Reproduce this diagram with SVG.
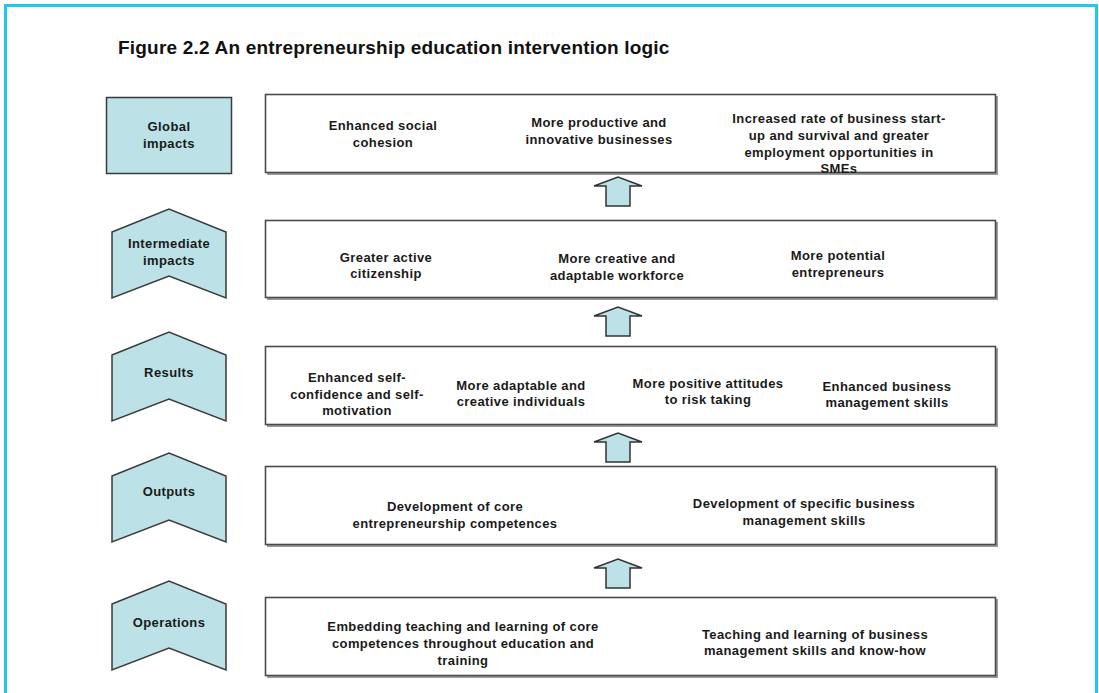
<svg xmlns="http://www.w3.org/2000/svg" width="1099" height="693" viewBox="0 0 1099 693">
<defs>
<style>
.t{font-family:"Liberation Sans",Arial,sans-serif;font-weight:bold;font-size:13px;letter-spacing:0.4px;fill:#1a1a1a;text-anchor:middle}
.title{font-family:"Liberation Sans",Arial,sans-serif;font-weight:bold;font-size:19px;letter-spacing:0.2px;fill:#111}
.box{fill:#fff;stroke:#4a4a4a;stroke-width:1.6}
.sh{fill:#9a9a9a}
.lab{fill:#bce2e7;stroke:#3a3a3a;stroke-width:1.5;stroke-linejoin:miter}
.arr{fill:#bce2e7;stroke:#333;stroke-width:1.5;stroke-linejoin:miter}
</style>
<g id="chev"><polygon class="lab" points="112,23 169,0 226,23 226,89 169,67 112,89"/></g>
<g id="upArrow"><polygon class="arr" points="606,29 606,9 594,9 618,0 642,9 630,9 630,29"/></g>
</defs>
<rect x="0" y="0" width="1099" height="693" fill="#fff"/>
<rect x="5.5" y="5.5" width="1091" height="700" fill="none" stroke="#22c6ef" stroke-width="3"/>
<text class="title" x="118" y="54">Figure 2.2 An entrepreneurship education intervention logic</text>

<g id="label-global"><rect class="lab" x="106.5" y="97.5" width="125" height="76"/>
<text class="t" x="169" y="131">Global</text><text class="t" x="169" y="148">impacts</text></g>
<g id="label-intermediate"><use href="#chev" y="209"/>
<text class="t" x="169" y="248">Intermediate</text><text class="t" x="169" y="265">impacts</text></g>
<g id="label-results"><use href="#chev" y="332"/>
<text class="t" x="169" y="377">Results</text></g>
<g id="label-outputs"><use href="#chev" y="453"/>
<text class="t" x="169" y="496">Outputs</text></g>
<g id="label-operations"><use href="#chev" y="581"/>
<text class="t" x="169" y="627">Operations</text></g>

<g id="box-global"><rect class="sh" x="267" y="96" width="731" height="79"/><rect class="box" x="265.5" y="94.5" width="730" height="78"/>
<text class="t" x="383" y="130">Enhanced social</text><text class="t" x="383" y="147">cohesion</text>
<text class="t" x="599" y="127">More productive and</text><text class="t" x="599" y="144">innovative businesses</text>
<text class="t" x="839" y="123">Increased rate of business start-</text><text class="t" x="839" y="140">up and survival and greater</text><text class="t" x="839" y="157">employment opportunities in</text><text class="t" x="839" y="173">SMEs</text></g>

<g id="box-intermediate"><rect class="sh" x="267" y="222" width="731" height="78"/><rect class="box" x="265.5" y="220.5" width="730" height="77"/>
<text class="t" x="386" y="262">Greater active</text><text class="t" x="386" y="278">citizenship</text>
<text class="t" x="617" y="263">More creative and</text><text class="t" x="617" y="280">adaptable workforce</text>
<text class="t" x="838" y="260">More potential</text><text class="t" x="838" y="277">entrepreneurs</text></g>

<g id="box-results"><rect class="sh" x="267" y="348" width="731" height="79"/><rect class="box" x="265.5" y="346.5" width="730" height="78"/>
<text class="t" x="357" y="382">Enhanced self-</text><text class="t" x="357" y="399">confidence and self-</text><text class="t" x="357" y="415">motivation</text>
<text class="t" x="521" y="390">More adaptable and</text><text class="t" x="521" y="406">creative individuals</text>
<text class="t" x="708" y="388">More positive attitudes</text><text class="t" x="708" y="404">to risk taking</text>
<text class="t" x="887" y="391">Enhanced business</text><text class="t" x="887" y="407">management skills</text></g>

<g id="box-outputs"><rect class="sh" x="267" y="468" width="731" height="79"/><rect class="box" x="265.5" y="466.5" width="730" height="78"/>
<text class="t" x="455" y="511">Development of core</text><text class="t" x="455" y="528">entrepreneurship competences</text>
<text class="t" x="804" y="508">Development of specific business</text><text class="t" x="804" y="525">management skills</text></g>

<g id="box-operations"><rect class="sh" x="267" y="599" width="731" height="79"/><rect class="box" x="265.5" y="597.5" width="730" height="78"/>
<text class="t" x="463" y="631">Embedding teaching and learning of core</text><text class="t" x="463" y="648">competences throughout education and</text><text class="t" x="463" y="665">training</text>
<text class="t" x="815" y="639">Teaching and learning of business</text><text class="t" x="815" y="655">management skills and know-how</text></g>

<g id="connectors">
<use href="#upArrow" y="177"/>
<use href="#upArrow" y="307"/>
<use href="#upArrow" y="433"/>
<use href="#upArrow" y="559"/>
</g>
</svg>
